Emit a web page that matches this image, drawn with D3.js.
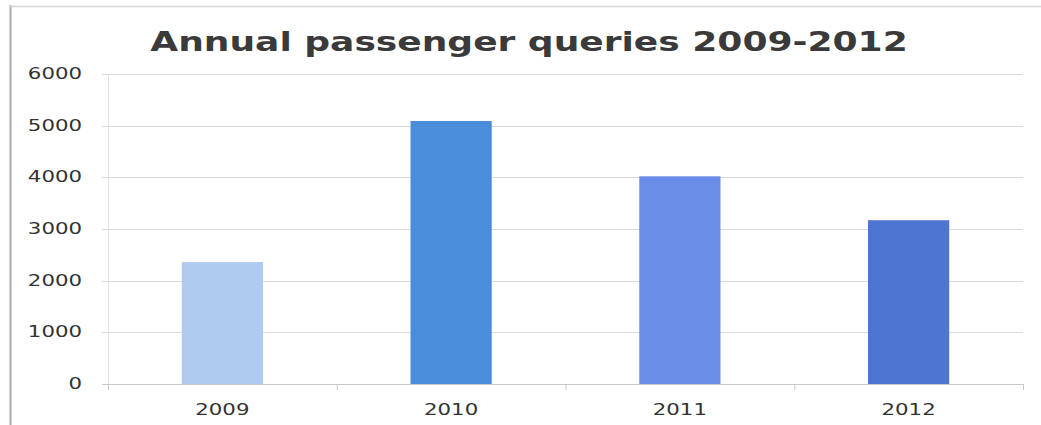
<!DOCTYPE html>
<html>
<head>
<meta charset="utf-8">
<script src="https://cdn.jsdelivr.net/npm/d3@7"></script>
<style>
  body { margin: 0; background: #fff; }
  svg { display: block; }
  text { font-family: "DejaVu Sans", Verdana, sans-serif; fill: #333; }
</style>
</head>
<body>
<svg id="chart"></svg>
<script>
// Data
const years = ['2009', '2010', '2011', '2012'];
const queries = [2360, 5090, 4020, 3170];
const barColors = ['#b0cbf0', '#4a8edb', '#6a8de8', '#4e75cf'];
const yTicks = [0, 1000, 2000, 3000, 4000, 5000, 6000];
const chartTitle = 'Annual passenger queries 2009-2012';

const width = 1041, height = 425;
const margin = { top: 74, right: 18, bottom: 41, left: 108 };
const stretch = 1.42; // the scanned chart is wider than tall

const svg = d3.select('#chart')
  .attr('width', width)
  .attr('height', height);

// outer frame (left and top edges only are visible)
svg.append('line')
  .attr('x1', 10.5).attr('y1', 5).attr('x2', 10.5).attr('y2', height)
  .attr('stroke', '#aaa').attr('stroke-width', 2);
svg.append('line')
  .attr('x1', 10).attr('y1', 6.5).attr('x2', width).attr('y2', 6.5)
  .attr('stroke', '#d4d4d4').attr('stroke-width', 1.5);

const x = d3.scaleBand()
  .domain(years)
  .range([margin.left, width - margin.right])
  .padding(0);

const y = d3.scaleLinear()
  .domain([0, 6000])
  .range([height - margin.bottom, margin.top]);

// gridlines
svg.append('g')
  .selectAll('line')
  .data(yTicks.slice(1))
  .join('line')
  .attr('x1', margin.left - 6)
  .attr('x2', width - margin.right)
  .attr('y1', d => Math.round(y(d)) + 0.5)
  .attr('y2', d => Math.round(y(d)) + 0.5)
  .attr('stroke', '#dadada');

// y axis line
svg.append('line')
  .attr('x1', margin.left + 0.5).attr('x2', margin.left + 0.5)
  .attr('y1', y(6000)).attr('y2', y(0))
  .attr('stroke', '#e2e2e2');

// bars
const barW = x.bandwidth() * 0.355;
svg.append('g')
  .selectAll('rect')
  .data(years)
  .join('rect')
  .attr('x', d => x(d) + (x.bandwidth() - barW) / 2)
  .attr('width', barW)
  .attr('y', (d, i) => y(queries[i]))
  .attr('height', (d, i) => y(0) - y(queries[i]))
  .attr('fill', (d, i) => barColors[i]);

// x axis line and category ticks
svg.append('line')
  .attr('x1', margin.left - 6).attr('x2', width - margin.right)
  .attr('y1', Math.round(y(0)) + 0.5).attr('y2', Math.round(y(0)) + 0.5)
  .attr('stroke', '#c8c8c8');
svg.append('g')
  .selectAll('line')
  .data(years.concat(['end']))
  .join('line')
  .attr('x1', d => (d === 'end' ? width - margin.right : x(d)) + 0.5)
  .attr('x2', d => (d === 'end' ? width - margin.right : x(d)) + 0.5)
  .attr('y1', y(0))
  .attr('y2', y(0) + 6)
  .attr('stroke', '#c8c8c8');

// y tick labels
svg.append('g')
  .selectAll('text')
  .data(yTicks)
  .join('text')
  .attr('transform', d => `translate(82,${y(d) + 5}) scale(${stretch},1)`)
  .attr('text-anchor', 'end')
  .style('font-size', '15px')
  .text(d => d);

// x labels
svg.append('g')
  .selectAll('text')
  .data(years)
  .join('text')
  .attr('transform', d => `translate(${x(d) + x.bandwidth() / 2},415) scale(${stretch},1)`)
  .attr('text-anchor', 'middle')
  .style('font-size', '15px')
  .text(d => d);

// title
const title = svg.append('text')
  .attr('text-anchor', 'middle')
  .style('font-size', '26px')
  .style('font-weight', 'bold')
  .style('fill', '#3a3a3a')
  .text(chartTitle);
const tw = title.node().getComputedTextLength();
title.attr('transform', `translate(529,51) scale(${758 / tw},1)`);
</script>
</body>
</html>
